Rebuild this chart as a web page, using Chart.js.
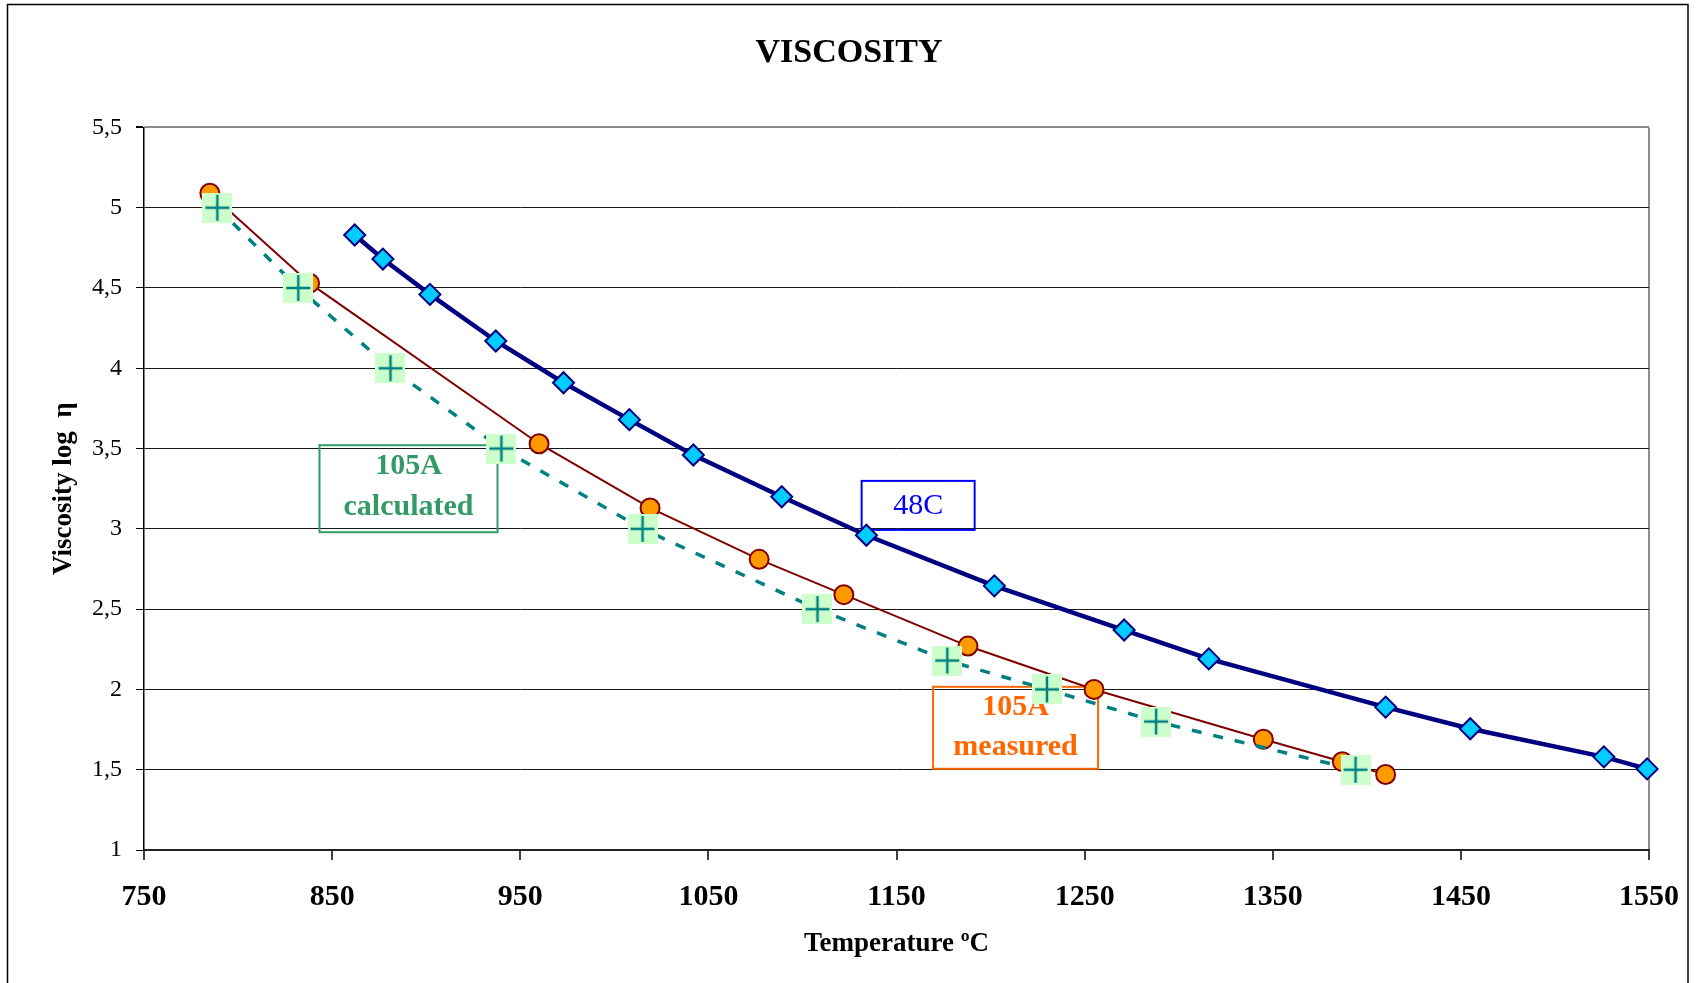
<!DOCTYPE html>
<html>
<head>
<meta charset="utf-8">
<title>Viscosity</title>
<script src="https://cdn.jsdelivr.net/npm/chart.js@4.4.1/dist/chart.umd.min.js"></script>
<style>
  html, body { margin: 0; padding: 0; background: #fff; }
  #wrap { position: relative; width: 1698px; height: 983px; }
</style>
</head>
<body>
<div id="wrap"><canvas id="viscChart" width="1698" height="983"></canvas></div>
<script>
// ======================================================
// Viscosity (log eta) vs temperature
// ======================================================

const xTickValues = [750, 850, 950, 1050, 1150, 1250, 1350, 1450, 1550];
const xTickLabels = ["750", "850", "950", "1050", "1150", "1250", "1350", "1450", "1550"];
const yTickValues = [1, 1.5, 2, 2.5, 3, 3.5, 4, 4.5, 5, 5.5];
const yTickLabels = ["1", "1,5", "2", "2,5", "3", "3,5", "4", "4,5", "5", "5,5"];

// 48C
const temps48C = [862, 877, 902, 937, 973, 1008, 1042, 1089, 1134, 1202, 1271, 1316, 1410, 1455, 1526, 1549];
const visc48C  = [4.83, 4.68, 4.46, 4.17, 3.91, 3.68, 3.46, 3.20, 2.96, 2.645, 2.37, 2.19, 1.89, 1.755, 1.58, 1.505];

// 105A measured
const tempsMeasured = [785, 838, 960, 1019, 1077, 1122, 1188, 1255, 1345, 1387, 1410];
const viscMeasured  = [5.09, 4.53, 3.53, 3.13, 2.81, 2.59, 2.27, 2.0, 1.69, 1.55, 1.47];

// 105A calculated
const tempsCalc = [789, 832, 881, 940, 1015, 1108, 1177, 1230, 1288, 1394];
const viscCalc  = [5.0, 4.5, 4.0, 3.5, 3.0, 2.5, 2.18, 2.0, 1.8, 1.5];

(() => {
    const FONT = "'Liberation Serif', 'Times New Roman', serif";

    const pairs = (xs, ys) => xs.map((x, i) => ({ x: x, y: ys[i] }));

    // light green square with a teal plus, used as point style
    function makeCrossMarker() {
        const c = document.createElement("canvas");
        c.width = 30;
        c.height = 30;
        const g = c.getContext("2d");
        g.fillStyle = "#CCFFCC";
        g.fillRect(0, 0, 30, 30);
        g.strokeStyle = "#008080";
        g.lineWidth = 2.5;
        g.beginPath();
        g.moveTo(3, 15);  g.lineTo(27, 15);
        g.moveTo(15, 2);  g.lineTo(15, 28);
        g.stroke();
        return c;
    }

    // boxed text notes placed in data coordinates
    const notes = [
        { lines: ["105A", "calculated"], t: 890.6, v: 3.25, w: 178, h: 87, gap: 41, shift: -2,
          color: "#339966", weight: "bold", size: 30 },
        { lines: ["105A", "measured"], t: 1213.3, v: 1.761, w: 165, h: 82, gap: 40, shift: -1,
          color: "#FF6600", weight: "bold", size: 30 },
        { lines: ["48C"], t: 1161.5, v: 3.146, w: 113, h: 49, gap: 0, shift: 1,
          color: "#0000FF", weight: "normal", size: 30 }
    ];

    const notesPlugin = {
        id: "notes",
        beforeDatasetsDraw(chart) {
            const { ctx, scales: { x, y } } = chart;
            notes.forEach(n => {
                const cx = x.getPixelForValue(n.t);
                const cy = y.getPixelForValue(n.v);
                ctx.save();
                ctx.strokeStyle = n.color;
                ctx.lineWidth = 2;
                ctx.strokeRect(cx - n.w / 2, cy - n.h / 2, n.w, n.h);
                ctx.fillStyle = n.color;
                ctx.font = `${n.weight} ${n.size}px ${FONT}`;
                ctx.textAlign = "center";
                ctx.textBaseline = "middle";
                const start = cy + n.shift - (n.lines.length - 1) * n.gap / 2;
                n.lines.forEach((s, i) => ctx.fillText(s, cx, start + i * n.gap));
                ctx.restore();
            });
        }
    };

    const framePlugin = {
        id: "frame",
        beforeDraw(chart) {
            const { ctx, width, height } = chart;
            ctx.save();
            ctx.fillStyle = "#fff";
            ctx.fillRect(0, 0, width, height);
            ctx.strokeStyle = "#000";
            ctx.lineWidth = 1.5;
            ctx.strokeRect(7.5, 4.5, 1680.5, height + 20);
            ctx.restore();
        }
    };

    const canvas = document.getElementById("viscChart");

    new Chart(canvas, {
        type: "line",
        data: {
            datasets: [
                {
                    label: "105A calculated",
                    data: pairs(tempsCalc, viscCalc),
                    borderColor: "#008080",
                    borderWidth: 3.5,
                    borderDash: [10, 12],
                    pointStyle: makeCrossMarker(),
                    pointRadius: 15,
                    clip: false
                },
                {
                    label: "105A measured",
                    data: pairs(tempsMeasured, viscMeasured),
                    borderColor: "#800000",
                    borderWidth: 2,
                    pointStyle: "circle",
                    pointRadius: 9.5,
                    pointBackgroundColor: "#FF9900",
                    pointBorderColor: "#800000",
                    pointBorderWidth: 2,
                    clip: false
                },
                {
                    label: "48C",
                    data: pairs(temps48C, visc48C),
                    borderColor: "#000080",
                    borderWidth: 4.5,
                    pointStyle: "rectRot",
                    pointRadius: 10.5,
                    pointBackgroundColor: "#00CCFF",
                    pointBorderColor: "#000080",
                    pointBorderWidth: 2,
                    clip: false
                }
            ]
        },
        options: {
            responsive: false,
            animation: false,
            events: [],
            tension: 0,
            layout: { padding: 0 },
            plugins: {
                legend: { display: false },
                tooltip: { enabled: false },
                title: {
                    display: true,
                    text: "VISCOSITY",
                    color: "#000",
                    font: { family: FONT, size: 34, weight: "bold", lineHeight: 1.2 },
                    padding: { top: 33, bottom: 53.6 }
                }
            },
            scales: {
                x: {
                    type: "linear",
                    min: 750,
                    max: 1550,
                    afterBuildTicks(axis) { axis.ticks = xTickValues.map(value => ({ value })); },
                    afterFit(axis) { axis.height = 133; },
                    grid: {
                        color: c => (c.tick && c.tick.value === 1550) ? "#8c8c8c" : "rgba(0,0,0,0)",
                        lineWidth: 2,
                        tickColor: "#000",
                        tickWidth: 1.5,
                        tickLength: 10
                    },
                    border: { color: "#222", width: 2 },
                    ticks: {
                        autoSkip: false,
                        maxRotation: 0,
                        padding: 19,
                        color: "#000",
                        font: { family: FONT, size: 30, weight: "bold" },
                        callback: (val, idx) => xTickLabels[idx]
                    },
                    title: {
                        display: true,
                        text: "Temperature ºC",
                        color: "#000",
                        font: { family: FONT, size: 27, weight: "bold" },
                        padding: { top: 0, bottom: 23 }
                    }
                },
                y: {
                    min: 1,
                    max: 5.5,
                    afterBuildTicks(axis) { axis.ticks = yTickValues.map(value => ({ value })); },
                    afterFit(axis) { axis.width = 144; },
                    grid: {
                        color: c => (c.tick && c.tick.value === 5.5) ? "#8c8c8c" : "#1a1a1a",
                        lineWidth: c => (c.tick && c.tick.value === 5.5) ? 2 : 1,
                        tickColor: "#000",
                        tickLength: 8
                    },
                    border: { color: "#000", width: 1.5 },
                    ticks: {
                        padding: 14,
                        color: "#000",
                        font: { family: FONT, size: 24 },
                        callback: (val, idx) => yTickLabels[idx]
                    },
                    title: {
                        display: true,
                        text: "Viscosity log  η",
                        color: "#000",
                        font: { family: FONT, size: 27, weight: "bold" },
                        padding: { top: 48, bottom: 0 }
                    }
                },
                // empty right-hand spacer so the title centres on the whole frame
                spacer: {
                    position: "right",
                    display: true,
                    afterFit(axis) { axis.width = 48; },
                    grid: { display: false },
                    border: { display: false },
                    ticks: { display: false }
                }
            }
        },
        plugins: [framePlugin, notesPlugin]
    });
})();
</script>
</body>
</html>
